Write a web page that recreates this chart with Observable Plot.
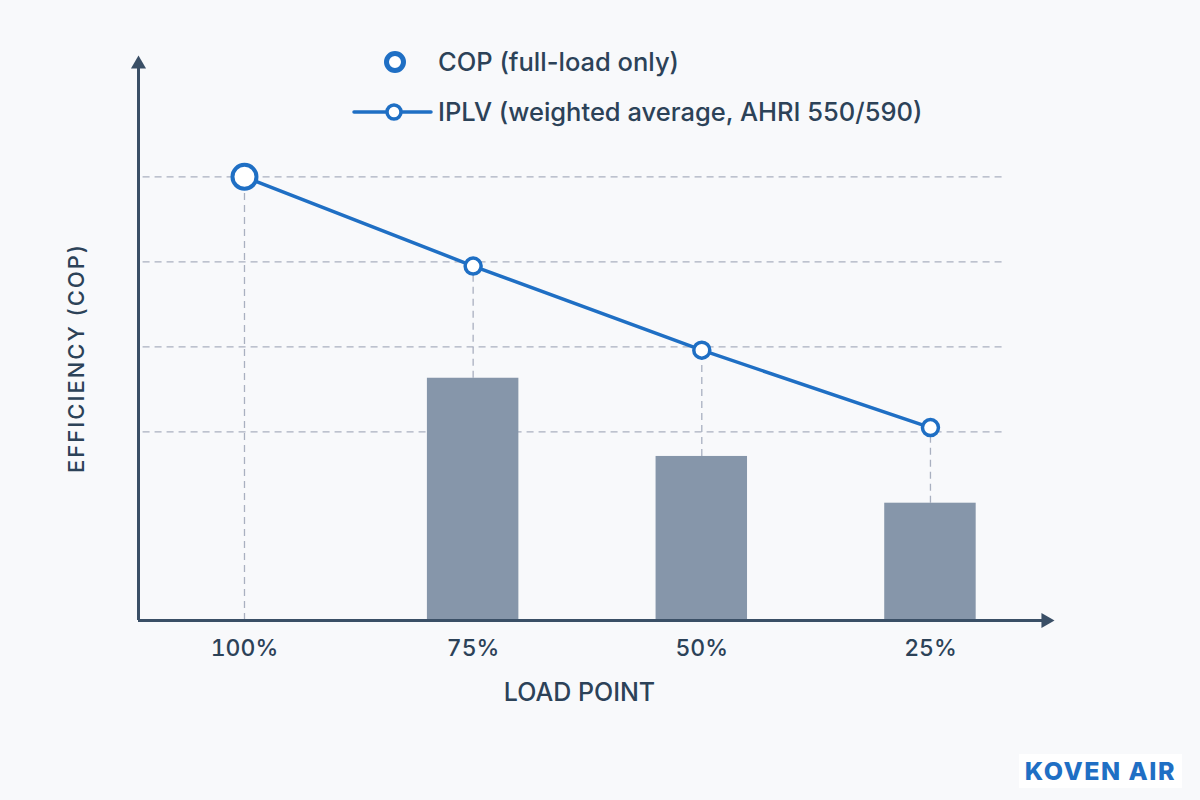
<!DOCTYPE html>
<html>
<head>
<meta charset="utf-8">
<script src="https://cdn.jsdelivr.net/npm/d3@7"></script>
<script src="https://cdn.jsdelivr.net/npm/@observablehq/plot@0.6"></script>
<style>
  html, body { margin: 0; padding: 0; background: #f8f9fb; }
  #wrap { position: relative; width: 1200px; height: 800px; font-family: Inter, "Open Sans", sans-serif; }
  #chart svg { display: block; }
  #legend { position: absolute; left: 0; top: 0; }
  #logo {
    position: absolute; right: 18px; bottom: 12px;
    padding: 2px 6px; background: #ffffff;
    font-family: Inter, "Open Sans", sans-serif; font-weight: 800; font-size: 25px;
    letter-spacing: 1.5px; color: #1f6fc4;
  }
  .ylabel text { letter-spacing: 2px; }
</style>
</head>
<body>
<div id="wrap">
  <div id="chart"></div>
  <svg id="legend" width="1200" height="140"></svg>
  <div id="logo">KOVEN AIR</div>
</div>
<script>
// Load points along the x axis
const loadPoints = ["100%", "75%", "50%", "25%"];
// IPLV curve (efficiency at each load point)
const iplvValues = [5.22, 4.17, 3.18, 2.27];
// Full-load COP (single point at 100%)
const copFullLoad = 5.22;
// Part-load bars (no bar at 100%)
const barValues = [null, 2.85, 1.93, 1.38];
// Dashed reference levels
const gridValues = [2.22, 3.22, 4.22, 5.22];

const legendLabels = ["COP (full-load only)", "IPLV (weighted average, AHRI 550/590)"];

const blue = "#1f6fc4";
const ink = "#2c4258";
const axisInk = "#3a4f66";
const gridInk = "#a9b0c0";
const font = "Inter, 'Open Sans', sans-serif";

// scale extents (index positions on x, efficiency on y)
const xMin = -0.4635, xMax = 3.5425, gridEnd = 3.33;
const yMax = 6.647;

const points = loadPoints.map((load, i) => ({i, load, iplv: iplvValues[i], bar: barValues[i]}));
const bars = points.filter(d => d.bar != null);

const chart = Plot.plot({
  width: 1200,
  height: 800,
  marginLeft: 138,
  marginRight: 146,
  marginTop: 55,
  marginBottom: 180,
  style: {background: "transparent", fontFamily: font, color: ink},
  x: {domain: [xMin, xMax]},
  y: {domain: [0, yMax]},
  marks: [
    // horizontal dashed reference lines
    Plot.ruleY(gridValues, {x1: xMin + 0.02, x2: gridEnd, stroke: gridInk, strokeWidth: 1.3, strokeDasharray: "7,5"}),
    // vertical dashed drop lines from each point to its bar (or the axis)
    Plot.ruleX(points, {x: "i", y1: d => d.bar ?? 0, y2: "iplv", stroke: gridInk, strokeWidth: 1.3, strokeDasharray: "7,5"}),
    // part-load bars
    Plot.rectY(bars, {x1: d => d.i - 0.2, x2: d => d.i + 0.2, y1: 0, y2: "bar", fill: "#8696aa"}),
    // axes with arrowheads
    Plot.ruleY([0], {x1: xMin, x2: xMax - 0.05, stroke: axisInk, strokeWidth: 3}),
    Plot.ruleX([xMin], {y1: 0, y2: yMax - 0.14, stroke: axisInk, strokeWidth: 3}),
    Plot.dot([{x: xMin, y: yMax - 0.102, a: 0}, {x: xMax - 0.038, y: 0, a: 90}],
      {x: "x", y: "y", rotate: "a", symbol: "triangle", r: 5.6, fill: axisInk, stroke: "none"}),
    // IPLV line and markers
    Plot.line(points, {x: "i", y: "iplv", stroke: blue, strokeWidth: 3.5}),
    Plot.dot(points.slice(1), {x: "i", y: "iplv", r: 8, fill: "#ffffff", stroke: blue, strokeWidth: 3.5}),
    // full-load COP marker
    Plot.dot([{i: 0, v: copFullLoad}], {x: "i", y: "v", r: 12, fill: "#ffffff", stroke: blue, strokeWidth: 4}),
    // x tick labels
    Plot.axisX({ticks: [0, 1, 2, 3], tickFormat: i => loadPoints[i], tickSize: 0, tickPadding: 19,
      fontSize: 23, fontWeight: 500, label: null, color: ink}),
    Plot.axisY({ticks: [], label: null}),
    // axis titles
    Plot.text(["LOAD POINT"], {frameAnchor: "bottom", dx: -17, dy: 80, fontSize: 25, fill: ink, fontWeight: 500}),
    Plot.text(["EFFICIENCY (COP)"], {frameAnchor: "left", textAnchor: "middle", rotate: -90, dx: -62, dy: 20,
      fontSize: 22, fill: ink, fontWeight: 500, className: "ylabel"})
  ]
});
document.getElementById("chart").append(chart);

// legend
const lg = d3.select("#legend");
lg.append("circle").attr("cx", 395).attr("cy", 62).attr("r", 8.5)
  .attr("fill", "#ffffff").attr("stroke", blue).attr("stroke-width", 5);
lg.append("line").attr("x1", 354).attr("x2", 431).attr("y1", 112).attr("y2", 112)
  .attr("stroke", blue).attr("stroke-width", 3.5).attr("stroke-linecap", "round");
lg.append("circle").attr("cx", 394).attr("cy", 112).attr("r", 7)
  .attr("fill", "#ffffff").attr("stroke", blue).attr("stroke-width", 3.5);
lg.selectAll("text.lab").data(legendLabels).join("text")
  .attr("class", "lab")
  .attr("x", 438).attr("y", (d, i) => 62 + i * 50).attr("dy", "0.35em")
  .attr("font-family", font).attr("font-size", 25.5).attr("font-weight", 500)
  .attr("fill", ink).text(d => d);
</script>
</body>
</html>
